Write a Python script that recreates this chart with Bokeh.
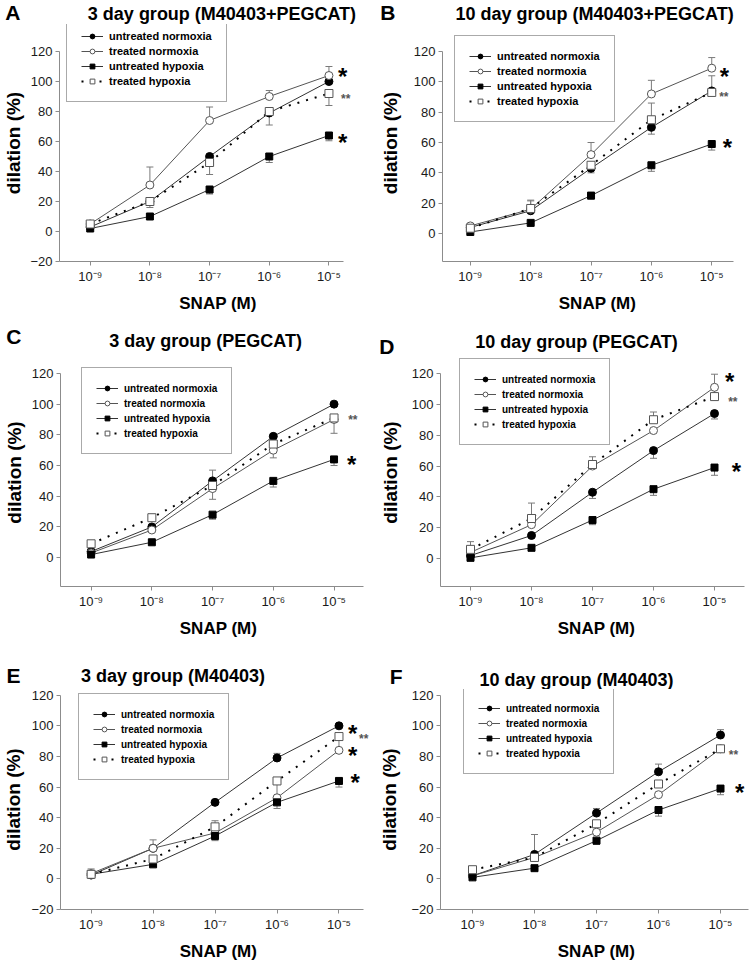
from bokeh.plotting import figure
from bokeh.models import Range1d, FixedTicker, Label, Legend, LegendItem
from bokeh.layouts import column, row
from bokeh.embed import file_html
from bokeh.resources import INLINE

# ---------------- data ----------------
doses = [-9, -8, -7, -6, -5]            # log10 SNAP (M)
dose_labels = ["10\u207b\u2079", "10\u207b\u2078", "10\u207b\u2077", "10\u207b\u2076", "10\u207b\u2075"]
y_ticks_full = [-20, 0, 20, 40, 60, 80, 100, 120]
y_ticks_pos = [0, 20, 40, 60, 80, 100, 120]
series_names = ["untreated normoxia", "treated normoxia", "untreated hypoxia", "treated hypoxia"]

# Panel A
a_title = "3 day group (M40403+PEGCAT)"
a_un_norm = [3, 20, 50, 79, 100]
a_un_norm_err = [0, 0, 0, 0, 0]
a_tr_norm = [5, 31, 74, 90, 104]
a_tr_norm_err = [0, 12, 9, 4, 6]
a_un_hyp = [2, 10, 28, 50, 64]
a_un_hyp_err = [0, 0, -3, -4, -3.5]
a_tr_hyp = [5, 20, 46, 80, 92]
a_tr_hyp_err = [0, -4, -8, -9, -8]
a_stars = ["*", "**", "*"]
a_star_y = [107, 90, 63]

# Panel B
b_title = "10 day group (M40403+PEGCAT)"
b_un_norm = [4, 15, 43, 70, 94]
b_un_norm_err = [0, 0, -3, -4.5, 0]
b_tr_norm = [5, 16, 52, 92, 109]
b_tr_norm_err = [0, 6, 8, 9, 7]
b_un_hyp = [1, 7, 25, 45, 59]
b_un_hyp_err = [0, 0, -2.5, -4, -4]
b_tr_hyp = [3.5, 16.5, 45, 75, 93]
b_tr_hyp_err = [0, 5, 0, 11, 11]
b_stars = ["*", "**", "*"]
b_star_y = [107, 91, 60]

# Panel C
c_title = "3 day group (PEGCAT)"
c_un_norm = [4, 20, 50, 79, 100]
c_un_norm_err = [0, 0, 7, 0, 0]
c_tr_norm = [3, 18, 45, 70, 90]
c_tr_norm_err = [0, 0, -7, -5, -9]
c_un_hyp = [2, 10, 28, 50, 64]
c_un_hyp_err = [0, 0, -3, -4, -4]
c_tr_hyp = [9, 26, 47, 74, 91]
c_tr_hyp_err = [0, 0, 0, 0, 0]
c_stars = ["**", "*"]
c_star_y = [91, 64]

# Panel D
d_title = "10 day group (PEGCAT)"
d_un_norm = [2, 15, 43, 70, 94]
d_un_norm_err = [0, 0, -4, -5, -3.5]
d_tr_norm = [4, 22, 60, 83, 111]
d_tr_norm_err = [0, 0, 0, 0, 8.5]
d_un_hyp = [0.5, 7, 25, 45, 59]
d_un_hyp_err = [0, 0, -3, -4, -5]
d_tr_hyp = [6, 26, 61, 90, 105]
d_tr_hyp_err = [5, 10, 5, 5, 5]
d_stars = ["*", "**", "*"]
d_star_y = [118, 103, 60]

# Panel E
e_title = "3 day group (M40403)"
e_un_norm = [2.5, 20, 50, 79, 100]
e_un_norm_err = [0, 0, 0, 3, 0]
e_tr_norm = [3.5, 20, 30, 53, 84]
e_tr_norm_err = [0, 5.5, 0, 0, 8]
e_un_hyp = [3, 9.5, 28, 50, 64]
e_un_hyp_err = [0, 0, -3, -4, -4]
e_tr_hyp = [3, 13, 34, 64, 93]
e_tr_hyp_err = [3.5, 0, 4, -11, 0]
e_stars = ["*", "**", "*", "*"]
e_star_y = [98, 93, 84, 66]

# Panel F
f_title = "10 day group (M40403)"
f_un_norm = [2, 16, 43, 70, 94]
f_un_norm_err = [0, 13, 3, 5, 3.5]
f_tr_norm = [2, 14, 30.5, 55, 85]
f_tr_norm_err = [0, 0, 0, 0, 0]
f_un_hyp = [1, 7, 25, 45, 59]
f_un_hyp_err = [0, 0, -2.5, -4, -4]
f_tr_hyp = [6, 14, 36, 62, 85]
f_tr_hyp_err = [0, 0, 0, 0, 0]
f_stars = ["**", "*"]
f_star_y = [82, 60]

# ---------------- layout / style (pixels) ----------------
FONT = "Liberation Sans"
COL_W = 376
COL_LEFT = [56, 64]          # left border (y axis position) of each column
ROW_H = [320, 320, 323]
ROW_HEAD = [24, 38, 49]      # height of the title strip of each row
ROW_BOTTOM = [261, 267, 273] # x axis position of each row

styles = [
    dict(lc="#333333", lw=1, dash="solid", marker="circle", fill="black", edge="black", size=8),
    dict(lc="#555555", lw=1, dash="solid", marker="circle", fill="white", edge="#555555", size=8),
    dict(lc="#333333", lw=1, dash="solid", marker="square", fill="black", edge="black", size=7),
    dict(lc="black", lw=2, dash="2 7", marker="square", fill="white", edge="#555555", size=8),
]

geoms = {
    "A": dict(col=0, row=0, xend=343, x9=87, x5=328, y120=52, y0=232,
              title=(220, 13), letter=(2, 13), letter_w=15, leg=(63, 102), leg_fs=11, ylab=3,
              star_dx=[0.23, 0.28, 0.23], full=True),
    "B": dict(col=1, row=0, xend=357, x9=92, x5=335, y120=51, y0=233,
              title=(217, 13), letter=(2, 13), letter_w=15, leg=(76, 122), leg_fs=11, ylab=10,
              star_dx=[0.21, 0.2, 0.26], full=False),
    "C": dict(col=0, row=1, xend=363, x9=87, x5=333, y120=53, y0=238,
              title=(203, 20), letter=(2, 16), letter_w=15, leg=(77, 135), leg_fs=10, ylab=4,
              star_dx=[0.31, 0.29], full=False),
    "D": dict(col=1, row=1, xend=368, x9=94, x5=338, y120=53, y0=239,
              title=(200, 21), letter=(3, 27), letter_w=15, leg=(83, 126), leg_fs=10, ylab=8,
              star_dx=[0.25, 0.3, 0.36], full=False),
    "E": dict(col=0, row=2, xend=363, x9=87, x5=338, y120=56, y0=243,
              title=(170, 35), letter=(2, 35), letter_w=14, leg=(74, 144), leg_fs=10, ylab=4,
              star_dx=[0.22, 0.4, 0.22, 0.26], full=True),
    "F": dict(col=1, row=2, xend=372, x9=96, x5=344, y120=54, y0=241,
              title=(200, 39), letter=(13, 36), letter_w=13, leg=(87, 138), leg_fs=10, ylab=8,
              star_dx=[0.21, 0.31], full=True),
}

panels = [
    ("A", a_title, [(a_un_norm, a_un_norm_err), (a_tr_norm, a_tr_norm_err), (a_un_hyp, a_un_hyp_err), (a_tr_hyp, a_tr_hyp_err)], a_stars, a_star_y),
    ("B", b_title, [(b_un_norm, b_un_norm_err), (b_tr_norm, b_tr_norm_err), (b_un_hyp, b_un_hyp_err), (b_tr_hyp, b_tr_hyp_err)], b_stars, b_star_y),
    ("C", c_title, [(c_un_norm, c_un_norm_err), (c_tr_norm, c_tr_norm_err), (c_un_hyp, c_un_hyp_err), (c_tr_hyp, c_tr_hyp_err)], c_stars, c_star_y),
    ("D", d_title, [(d_un_norm, d_un_norm_err), (d_tr_norm, d_tr_norm_err), (d_un_hyp, d_un_hyp_err), (d_tr_hyp, d_tr_hyp_err)], d_stars, d_star_y),
    ("E", e_title, [(e_un_norm, e_un_norm_err), (e_tr_norm, e_tr_norm_err), (e_un_hyp, e_un_hyp_err), (e_tr_hyp, e_tr_hyp_err)], e_stars, e_star_y),
    ("F", f_title, [(f_un_norm, f_un_norm_err), (f_tr_norm, f_tr_norm_err), (f_un_hyp, f_un_hyp_err), (f_tr_hyp, f_tr_hyp_err)], f_stars, f_star_y),
]


def make_header(letter, title, g):
    L = COL_LEFT[g["col"]]
    HH = ROW_HEAD[g["row"]]
    h = figure(width=COL_W, height=HH, x_range=Range1d(L, COL_W), y_range=Range1d(0, HH),
               output_backend="svg", toolbar_location=None, title=None,
               x_axis_location=None, y_axis_location="left",
               min_border=0, min_border_left=L, min_border_right=0, min_border_top=0, min_border_bottom=0)
    h.outline_line_color = None
    h.xgrid.visible = False
    h.ygrid.visible = False
    # panel letter, drawn as the single tick label of an invisible left axis
    lx, ly = g["letter"]
    yl = HH - ly
    ax = h.yaxis[0]
    ax.ticker = FixedTicker(ticks=[yl])
    ax.major_label_overrides = {yl: letter}
    ax.axis_line_color = None
    ax.major_tick_line_color = None
    ax.minor_tick_line_color = None
    ax.major_tick_in = 0
    ax.major_tick_out = 0
    ax.major_label_standoff = max(0, L - lx - g["letter_w"])
    ax.major_label_text_font = FONT
    ax.major_label_text_font_style = "bold"
    ax.major_label_text_font_size = "21px"
    ax.major_label_text_color = "black"
    # title
    tx, ty = g["title"]
    h.add_layout(Label(x=tx, y=HH - ty, text=title, text_font=FONT, text_font_style="bold",
                       text_font_size="18px", text_align="center", text_baseline="middle",
                       text_color="black"))
    return h


def make_panel(letter, title, data, stars, star_y):
    g = geoms[letter]
    L = COL_LEFT[g["col"]]
    HH = ROW_HEAD[g["row"]]
    bottom = ROW_BOTTOM[g["row"]]
    H = ROW_H[g["row"]] - HH

    xpd = (g["x5"] - g["x9"]) / 4.0
    x_start = -9 + (L - g["x9"]) / xpd
    x_end = -5 + (COL_W - g["x5"]) / xpd
    x_axis_end = -5 + (g["xend"] - g["x5"]) / xpd
    ypu = (g["y0"] - g["y120"]) / 120.0
    if g["full"]:
        y_start = -20.0
        y_end = -20.0 + (bottom - HH) / ypu
    else:
        y_start = (g["y0"] - bottom) / ypu
        y_end = (g["y0"] - HH) / ypu

    p = figure(width=COL_W, height=H, x_range=Range1d(x_start, x_end), y_range=Range1d(y_start, y_end),
               output_backend="svg", toolbar_location=None, title=None,
               min_border=0, min_border_left=L, min_border_right=0, min_border_top=0,
               min_border_bottom=ROW_H[g["row"]] - bottom)
    p.outline_line_color = None
    p.xgrid.visible = False
    p.ygrid.visible = False
    p.background_fill_color = "white"
    p.border_fill_color = "white"

    for ax in (p.xaxis[0], p.yaxis[0]):
        ax.axis_line_color = "#8c8c8c"
        ax.major_tick_line_color = "#8c8c8c"
        ax.minor_tick_line_color = None
        ax.major_tick_in = 0
        ax.major_tick_out = 4
        ax.major_label_text_font = FONT
        ax.major_label_text_font_size = "13px"
        ax.major_label_text_color = "#1a1a1a"
        ax.major_label_standoff = 3
        ax.axis_label_text_font = FONT
        ax.axis_label_text_font_style = "bold"
        ax.axis_label_text_color = "black"

    p.xaxis.ticker = FixedTicker(ticks=doses)
    p.xaxis.major_label_overrides = {d: lab for d, lab in zip(doses, dose_labels)}
    p.xaxis.bounds = (x_start, x_axis_end)
    p.xaxis.axis_label = "SNAP (M)"
    p.xaxis.axis_label_text_font_size = "17px"
    p.xaxis.axis_label_standoff = 7

    p.yaxis.ticker = FixedTicker(ticks=y_ticks_full if g["full"] else y_ticks_pos)
    p.yaxis.bounds = (y_start, 120)
    p.yaxis.axis_label = "dilation (%)"
    p.yaxis.axis_label_text_font_size = "19px"
    p.yaxis.axis_label_standoff = g["ylab"]

    line_rs = []
    for (vals, errs), st in zip(data, styles):
        lr = p.line(doses, vals, line_color=st["lc"], line_width=st["lw"], line_dash=st["dash"])
        line_rs.append(lr)
    for (vals, errs), st in zip(data, styles):
        ex = [d for d, e in zip(doses, errs) if e != 0]
        ey0 = [v for v, e in zip(vals, errs) if e != 0]
        ey1 = [v + e for v, e in zip(vals, errs) if e != 0]
        if ex:
            p.segment(x0=ex, y0=ey0, x1=ex, y1=ey1, line_color="#7a7a7a", line_width=1)
            p.scatter(ex, ey1, marker="dash", size=7, line_color="#7a7a7a", line_width=1)
    marker_rs = []
    for (vals, errs), st in zip(data, styles):
        mr = p.scatter(doses, vals, marker=st["marker"], size=st["size"], fill_color=st["fill"],
                       line_color=st["edge"], line_width=1)
        marker_rs.append(mr)

    items = [LegendItem(label=name, renderers=[lr, mr])
             for name, lr, mr in zip(series_names, line_rs, marker_rs)]
    legend = Legend(items=items, location=(g["leg"][0] - L, bottom - g["leg"][1]),
                    label_text_font=FONT, label_text_font_style="bold",
                    label_text_font_size="%dpx" % g["leg_fs"], label_text_color="black",
                    glyph_width=22, glyph_height=12, label_height=12, label_standoff=6,
                    spacing=3, padding=14, margin=0,
                    border_line_color="#555555", border_line_width=1,
                    background_fill_color="white", background_fill_alpha=1.0)
    p.add_layout(legend)

    for s, yv, dx in zip(stars, star_y, g["star_dx"]):
        if s == "*":
            p.add_layout(Label(x=-5 + dx, y=yv, text=s, text_font=FONT, text_font_style="bold",
                               text_font_size="24px", text_align="center", text_baseline="middle",
                               text_color="black", y_offset=-5))
        else:
            p.add_layout(Label(x=-5 + dx, y=yv, text=s, text_font=FONT, text_font_style="bold",
                               text_font_size="12px", text_align="center", text_baseline="middle",
                               text_color="#555555", y_offset=-2))

    header = make_header(letter, title, g)
    return column(header, p, spacing=0)


cells = [make_panel(*pn) for pn in panels]
layout = column(row(cells[0], cells[1], spacing=0),
                row(cells[2], cells[3], spacing=0),
                row(cells[4], cells[5], spacing=0), spacing=0)

open("out.html", "w").write(file_html(layout, INLINE))
